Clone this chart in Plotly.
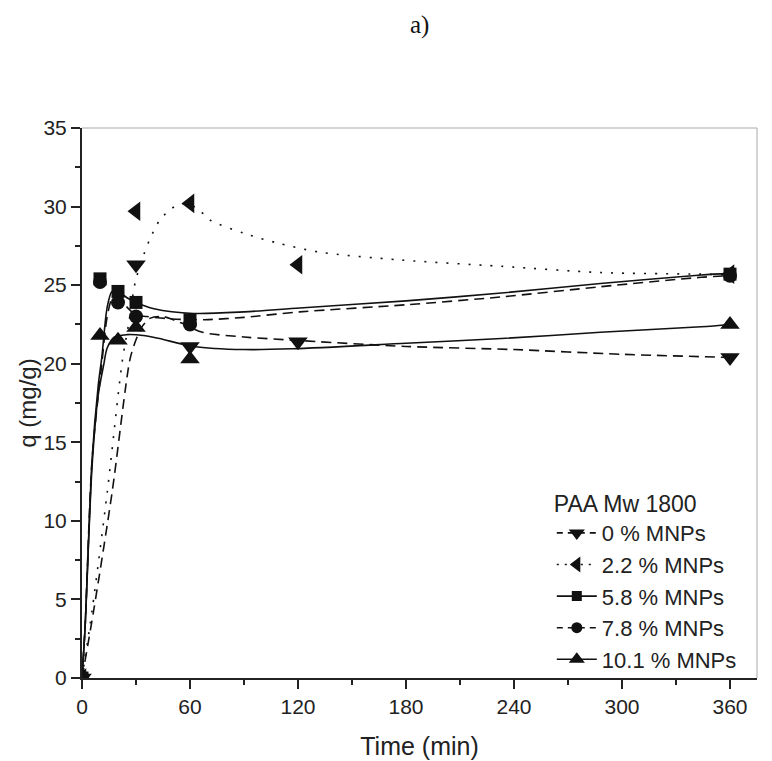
import plotly.graph_objects as go

# ---- measured points ----
names = ["0 % MNPs", "2.2 % MNPs", "5.8 % MNPs", "7.8 % MNPs", "10.1 % MNPs"]

t_0 = [0, 30, 60, 120, 360]
q_0 = [0, 26.3, 21.1, 21.4, 20.4]

t_22 = [0, 30, 60, 120, 360]
q_22 = [0, 29.7, 30.2, 26.3, 25.7]

t_58 = [0, 10, 20, 30, 60, 360]
q_58 = [0, 25.4, 24.6, 23.9, 22.8, 25.7]

t_78 = [0, 10, 20, 30, 60, 360]
q_78 = [0, 25.2, 23.9, 23.0, 22.5, 25.6]

t_101 = [0, 10, 20, 30, 60, 360]
q_101 = [0, 21.8, 21.5, 22.3, 20.3, 22.5]

# ---- fitted curves ----
ft_0 = [0, 6.5, 16.7, 26.5, 29, 33, 38, 45, 55, 67, 90, 117, 180, 240, 300, 360]
fq_0 = [0, 4.3, 11.8, 20.2, 21.2, 22.3, 22.9, 23.0, 22.6, 22.0, 21.7, 21.5, 21.1, 20.9, 20.6, 20.4]

ft_22 = [0, 5.6, 14, 22.3, 26, 29.6, 34.5, 38, 43, 50, 58, 65, 71, 90, 108, 132, 177, 233, 288, 344, 360]
fq_22 = [0, 4.3, 11.8, 20.1, 22.6, 25.2, 27.0, 28.0, 29.1, 29.9, 30.2, 29.8, 29.15, 28.3, 27.7, 27.1, 26.6, 26.2, 25.8, 25.7, 25.65]

ft_58 = [0, 1.7, 5.6, 9, 11, 14, 16.7, 20, 25, 30, 40, 62, 90, 121, 180, 233, 288, 344, 360]
fq_58 = [0, 3.2, 13.9, 18.6, 20.4, 23.6, 24.6, 24.6, 24.2, 23.9, 23.5, 23.2, 23.3, 23.55, 24.0, 24.5, 25.1, 25.65, 25.75]

ft_78 = [0, 1.7, 5.6, 11, 14, 17, 20, 25, 30, 36, 50, 68, 90, 121, 180, 233, 288, 344, 360]
fq_78 = [0, 3.2, 13.9, 20.0, 23.0, 24.2, 24.2, 23.6, 23.1, 23.0, 22.85, 22.8, 22.95, 23.3, 23.75, 24.25, 24.9, 25.5, 25.6]

ft_101 = [0, 1.7, 5.6, 9, 12, 14, 18, 25, 34, 43, 62, 90, 117, 180, 233, 288, 344, 360]
fq_101 = [0, 3.2, 13.5, 18.0, 19.9, 21.0, 21.7, 21.85, 21.8, 21.6, 21.1, 20.9, 20.95, 21.3, 21.6, 22.0, 22.35, 22.5]

x_ticks = [0, 60, 120, 180, 240, 300, 360]
y_ticks = [0, 5, 10, 15, 20, 25, 30, 35]

points = [(t_0, q_0), (t_22, q_22), (t_58, q_58), (t_78, q_78), (t_101, q_101)]
fits = [(ft_0, fq_0), (ft_22, fq_22), (ft_58, fq_58), (ft_78, fq_78), (ft_101, fq_101)]
symbols = ["triangle-down", "triangle-left", "square", "circle", "triangle-up"]
msizes = [17, 17, 13, 14, 17]
dashes = ["10px,6px", "2px,9px", "solid", "10px,6px", "solid"]
legend_dashes = ["6px,5px", "2px,6px", "solid", "6px,5px", "solid"]

ink = "#111111"
fig = go.Figure()

for i in range(5):
    ft, fq = fits[i]
    fig.add_trace(go.Scatter(
        x=ft, y=fq, mode="lines", line=dict(color=ink, width=1.6, dash=dashes[i], shape="spline", smoothing=0.8),
        showlegend=False, hoverinfo="skip"))

for i in range(5):
    t, q = points[i]
    fig.add_trace(go.Scatter(
        x=t, y=q, mode="markers", marker=dict(symbol=symbols[i], size=msizes[i], color=ink),
        showlegend=False, name=names[i]))

for i in range(5):
    fig.add_trace(go.Scatter(
        x=[None], y=[None], mode="lines+markers", name=names[i],
        line=dict(color=ink, width=1.6, dash=legend_dashes[i]),
        marker=dict(symbol=symbols[i], size=msizes[i] - 3, color=ink)))

fig.update_layout(
    width=764, height=753,
    margin=dict(l=74, r=15, t=120, b=83),
    paper_bgcolor="white", plot_bgcolor="white",
    font=dict(family="Liberation Sans, Arial, sans-serif", color="#222222", size=20),
    legend=dict(
        title=dict(text="PAA Mw 1800", font=dict(size=23)),
        font=dict(size=22), x=0.696, y=0.356, xanchor="left", yanchor="top",
        bgcolor="rgba(0,0,0,0)", borderwidth=0, tracegroupgap=0, itemwidth=40),
    xaxis=dict(
        range=[0, 375], tickvals=x_ticks, ticks="outside", ticklen=9, tickwidth=1.5, tickcolor="#222",
        showline=True, linecolor="#222", linewidth=2, showgrid=False, zeroline=False, automargin=False,
        tickfont=dict(size=21),
        minor=dict(dtick=30, tick0=0, ticks="outside", ticklen=5, tickwidth=1.5, tickcolor="#222", showgrid=False),
        title=dict(text="Time (min)", font=dict(size=25), standoff=20)),
    yaxis=dict(
        range=[0, 35], tickvals=y_ticks, ticks="outside", ticklen=9, tickwidth=1.5, tickcolor="#222",
        showline=True, linecolor="#222", linewidth=2, showgrid=False, zeroline=False, automargin=False,
        tickfont=dict(size=21),
        minor=dict(dtick=2.5, tick0=0, ticks="outside", ticklen=5, tickwidth=1.5, tickcolor="#222", showgrid=False),
        title=dict(text="q (mg/g)", font=dict(size=24), standoff=0)),
    shapes=[
        dict(type="line", xref="paper", yref="paper", x0=0, x1=1, y0=1, y1=1, line=dict(color="#aaaaaa", width=1)),
        dict(type="line", xref="paper", yref="paper", x0=1, x1=1, y0=0, y1=1, line=dict(color="#aaaaaa", width=1)),
    ],
    annotations=[dict(text="a)", xref="paper", yref="paper", x=0.5, y=1, yshift=103, xanchor="center", yanchor="middle",
                      showarrow=False, font=dict(family="Liberation Serif, Times New Roman, serif", size=25, color="#111"))],
)

fig.write_html("out.html")
